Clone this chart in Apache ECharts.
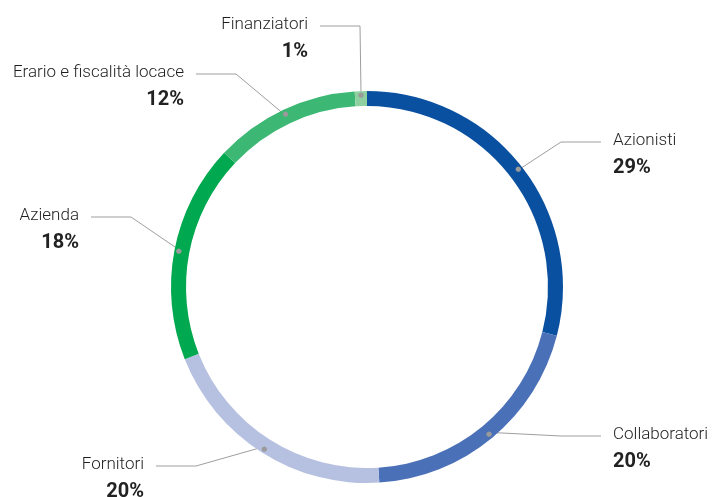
<!DOCTYPE html>
<html>
<head>
<meta charset="utf-8">
<script src="https://cdn.jsdelivr.net/npm/echarts@6/dist/echarts.min.js"></script>
<style>
  html, body { margin: 0; padding: 0; background: #ffffff; }
  #chart { width: 713px; height: 497px; }
</style>
</head>
<body>
<div id="chart"></div>
<script>
// ---- data ----
const categories = ['Azionisti', 'Collaboratori', 'Fornitori', 'Azienda', 'Erario e fiscalità locace', 'Finanziatori'];
const shares = [29, 20, 20, 18, 12, 1];
const sliceColors = ['#0a50a0', '#4a70b7', '#b6c1e1', '#00a84f', '#3cb874', '#8fd0a1'];

// ---- layout of the callout labels: [text edge x, leader y] ----
const labelSpots = [[613, 142], [613, 436], [144, 466], [79, 217], [184, 74], [308, 26]];

const FONT = "Roboto, 'Liberation Sans', sans-serif";
const CX = 367, CY = 287;
const LH = 27;

const ringData = categories.map((c, i) => ({ name: c, value: shares[i], itemStyle: { color: sliceColors[i] } }));
const ghostData = categories.map((c, i) => ({ name: c, value: shares[i] }));

const chart = echarts.init(document.getElementById('chart'), null, { renderer: 'canvas' });
chart.setOption({
  animation: false,
  backgroundColor: '#ffffff',
  series: [
    {
      type: 'pie',
      center: [CX, CY],
      radius: [181, 196],
      startAngle: 90,
      clockwise: true,
      silent: true,
      label: { show: false },
      labelLine: { show: false },
      itemStyle: { borderWidth: 0 },
      data: ringData
    },
    {
      type: 'pie',
      center: [CX, CY],
      radius: [170, 188.5],
      startAngle: 90,
      clockwise: true,
      silent: true,
      avoidLabelOverlap: false,
      itemStyle: { color: 'rgba(0,0,0,0)', borderWidth: 0 },
      label: {
        show: true,
        position: 'outside',
        formatter: p => `{n|${p.name}}\n{p|${p.value}%}`,
        rich: {
          n: { fontFamily: FONT, fontSize: 17, fontWeight: 300, color: '#1e1e1e', lineHeight: LH },
          p: { fontFamily: FONT, fontSize: 20, fontWeight: 'bold', color: '#222222', lineHeight: LH }
        }
      },
      labelLine: { show: true, length: 10, length2: 10, smooth: false, lineStyle: { color: '#9e9e9e', width: 1 } },
      labelLayout: function (params) {
        const i = params.dataIndex;
        const tx = labelSpots[i][0], ly = labelSpots[i][1];
        const left = tx < CX;
        const lineEnd = left ? tx + 12 : tx - 12;
        const elbow = left ? lineEnd + 40 : lineEnd - 40;
        const res = { x: tx, y: ly - 1 - LH / 2, align: left ? 'right' : 'left', verticalAlign: 'top' };
        if (params.labelLinePoints) {
          const p0 = params.labelLinePoints[0];
          res.labelLinePoints = [[p0[0], p0[1]], [elbow, ly], [lineEnd, ly]];
        }
        return res;
      },
      data: ghostData
    },
    {
      type: 'pie',
      center: [CX, CY],
      radius: [181, 196],
      startAngle: 90,
      clockwise: true,
      silent: true,
      itemStyle: { color: 'rgba(0,0,0,0)', borderWidth: 0 },
      label: { show: true, position: 'inside', formatter: '●', fontSize: 7, color: '#9a9a9a', fontFamily: 'DejaVu Sans' },
      labelLine: { show: false },
      data: ghostData
    }
  ]
});
</script>
</body>
</html>
